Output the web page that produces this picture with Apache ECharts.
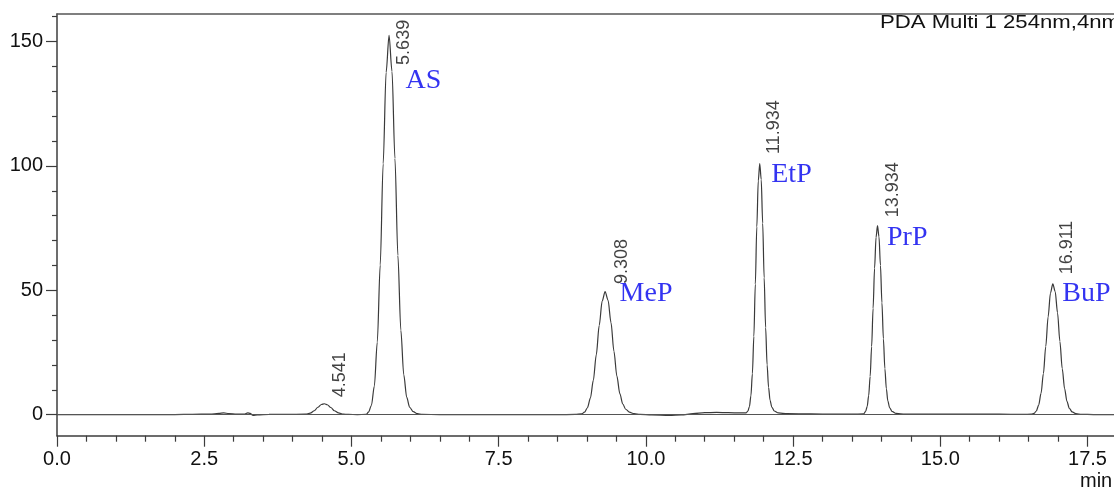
<!DOCTYPE html>
<html>
<head>
<meta charset="utf-8">
<script src="https://cdn.jsdelivr.net/npm/echarts@6/dist/echarts.min.js"></script>
<style>html,body{margin:0;padding:0;background:#fff}#c{width:1114px;height:490px}</style>
</head>
<body>
<div id="c"></div>
<script>
// ---------- DATA ----------
const timeMin = [
  0.0, 0.5, 1.0, 1.5, 2.0, 2.3, 2.6, 2.75, 2.83, 2.92, 3.05, 3.18, 3.24, 3.28, 3.33, 3.4, 3.6, 3.9, 4.22,
  4.30, 4.37, 4.43, 4.49, 4.541, 4.59, 4.65, 4.71, 4.78, 4.86, 4.95, 5.1, 5.25,
  5.289, 5.339, 5.389, 5.439, 5.489, 5.539, 5.589, 5.639, 5.689, 5.739, 5.789, 5.839, 5.889, 5.939, 5.989, 6.05, 6.12, 6.2,
  6.5, 7.0, 7.5, 8.0, 8.5, 8.8,
  8.908, 8.958, 9.008, 9.058, 9.108, 9.158, 9.208, 9.258, 9.308, 9.358, 9.408, 9.458, 9.508, 9.558, 9.608, 9.658, 9.72, 9.8, 9.9,
  10.1, 10.4, 10.6, 10.8, 11.0, 11.2, 11.4, 11.6, 11.70,
  11.734, 11.759, 11.784, 11.809, 11.834, 11.859, 11.884, 11.909, 11.934, 11.959, 11.984, 12.009, 12.034, 12.059, 12.084, 12.109, 12.14, 12.18, 12.25, 12.4,
  12.8, 13.2, 13.5, 13.70,
  13.734, 13.759, 13.784, 13.809, 13.834, 13.859, 13.884, 13.909, 13.934, 13.959, 13.984, 14.009, 14.034, 14.059, 14.084, 14.109, 14.14, 14.18, 14.25, 14.4,
  14.8, 15.5, 16.0, 16.4, 16.55,
  16.591, 16.631, 16.671, 16.711, 16.751, 16.791, 16.831, 16.871, 16.911, 16.951, 16.991, 17.031, 17.071, 17.111, 17.151, 17.191, 17.24, 17.3, 17.4, 17.6, 17.95
];
const signalMv = [
  0, 0, 0, 0, 0.05, 0.15, 0.25, 0.5, 0.75, 0.45, 0.2, 0.25, 0.75, 0.5, -0.3, -0.1, 0.1, 0.15, 0.2,
  0.6, 1.6, 3.0, 4.1, 4.4, 4.0, 2.9, 1.6, 0.7, 0.25, 0.1, 0.05, 0.1,
  1.0, 3.7, 11.5, 29.2, 60.2, 100.9, 137.6, 152.5, 138, 103, 64, 34, 16, 7, 3, 1.2, 0.4, 0.1,
  0.05, 0, 0, 0, 0, 0.1,
  0.3, 1.0, 2.8, 6.7, 13.8, 24.1, 35.9, 45.7, 49.5, 46, 37, 25.5, 15.5, 8.5, 4.3, 2.2, 1.0, 0.4, 0.1,
  -0.1, -0.3, -0.1, 0.4, 0.8, 0.9, 0.8, 0.7, 0.7,
  1.5, 3.3, 7.6, 16.5, 31.5, 52.5, 75.5, 94, 101, 94.5, 77, 55, 35, 20, 11, 5.8, 3.0, 1.5, 0.7, 0.4,
  0.3, 0.25, 0.2, 0.3,
  1.4, 3.4, 7.7, 15.4, 27.4, 42.8, 58.9, 71.3, 76, 71.5, 60, 45, 30.5, 18.5, 10.5, 5.6, 2.8, 1.3, 0.5, 0.25,
  0.2, 0.2, 0.2, 0.15, 0.2,
  0.5, 1.5, 3.9, 8.6, 16.5, 27.4, 39.3, 48.9, 52.6, 49.5, 41, 29.5, 18.5, 10.5, 5.4, 2.6, 1.1, 0.4, 0.15, 0.05, 0
];
const peakTimes   = [4.541, 5.639, 9.308, 11.934, 13.934, 16.911];
const peakHeights = [4.4, 152.5, 49.5, 101, 76, 52.6];
const peakNames   = ['', 'AS', 'MeP', 'EtP', 'PrP', 'BuP'];
const xTickLabels = [0, 2.5, 5, 7.5, 10, 12.5, 15, 17.5];
const xMinorTicks = [0.5,1,1.5,2,3,3.5,4,4.5,5.5,6,6.5,7,8,8.5,9,9.5,10.5,11,11.5,12,13,13.5,14,14.5,15.5,16,16.5,17];
const yTickLabels = [0, 50, 100, 150];
const yMinorTicks = [10,20,30,40,60,70,80,90,110,120,130,140,160];
const detectorText = 'PDA Multi 1 254nm,4nm';
const xUnit = 'min';

// ---------- STYLE / LAYOUT ----------
const X_MIN = 0, X_MAX = 17.95, Y_MIN = -8.44, Y_MAX = 161.1;
const rtOffsets   = [[16,-6],[15,30],[17,-7],[15,-9],[16,-8],[15,-9]];
const nameOffsets = [[0,0],[17,46],[15,3],[12,12],[10,12],[10,10]];
const SANS = '"Liberation Sans", Arial, sans-serif';
const SERIF = '"Liberation Serif", "Times New Roman", serif';
const AX = '#3c3c3c';

const curve = timeMin.map((t, i) => [t, signalMv[i]]);
const rtData = peakTimes.map((t, i) => ({
  value: [t, peakHeights[i]],
  label: { position: rtOffsets[i], formatter: t.toFixed(3) }
}));
const nameData = peakTimes.map((t, i) => ({
  value: [t, peakHeights[i]],
  label: { show: peakNames[i] !== '', position: nameOffsets[i], formatter: peakNames[i] }
}));

const chart = echarts.init(document.getElementById('c'), null, { renderer: 'canvas' });
chart.setOption({
  animation: false,
  backgroundColor: '#fff',
  grid: { left: 57, right: 0, top: 14, bottom: 54.3, containLabel: false },
  xAxis: [
    { type: 'value', min: X_MIN, max: X_MAX, position: 'bottom',
      axisLine: { show: true, onZero: false, lineStyle: { color: AX, width: 1.5 } },
      axisTick: { show: true, length: 11, customValues: xTickLabels, lineStyle: { color: AX, width: 1.2 } },
      axisLabel: { show: true, customValues: xTickLabels, margin: 14, color: '#111', fontSize: 20, fontFamily: SANS,
        formatter: v => v.toFixed(1) },
      splitLine: { show: false } },
    { type: 'value', min: X_MIN, max: X_MAX, position: 'bottom',
      axisLine: { show: false, onZero: false },
      axisTick: { show: true, length: 6, customValues: xMinorTicks, lineStyle: { color: AX, width: 1.2 } },
      axisLabel: { show: false }, splitLine: { show: false } },
    { type: 'value', min: X_MIN, max: X_MAX, position: 'top',
      axisLine: { show: true, onZero: false, lineStyle: { color: '#555', width: 1.5 } },
      axisTick: { show: false }, axisLabel: { show: false }, splitLine: { show: false } }
  ],
  yAxis: [
    { type: 'value', min: Y_MIN, max: Y_MAX, position: 'left',
      axisLine: { show: true, onZero: false, lineStyle: { color: AX, width: 1.5 } },
      axisTick: { show: true, length: 11, customValues: yTickLabels, lineStyle: { color: AX, width: 1.2 } },
      axisLabel: { show: true, customValues: yTickLabels, margin: 14, color: '#111', fontSize: 20, fontFamily: SANS },
      splitLine: { show: false } },
    { type: 'value', min: Y_MIN, max: Y_MAX, position: 'left',
      axisLine: { show: false, onZero: false },
      axisTick: { show: true, length: 5, customValues: yMinorTicks, lineStyle: { color: AX, width: 1.2 } },
      axisLabel: { show: false }, splitLine: { show: false } }
  ],
  graphic: [
    { type: 'text', x: 880, y: 23.5, scaleX: 1.23, silent: true,
      style: { text: detectorText, font: '18px ' + SANS, fill: '#111', align: 'left', verticalAlign: 'middle' } },
    { type: 'text', x: 1080, y: 481, silent: true,
      style: { text: xUnit, font: '20px ' + SANS, fill: '#111', align: 'left', verticalAlign: 'middle' } }
  ],
  series: [
    { type: 'line', name: 'signal', data: curve, xAxisIndex: 0, yAxisIndex: 0,
      showSymbol: false, symbol: 'none', smooth: 0.3, smoothMonotone: 'x',
      lineStyle: { color: '#3a3a3a', width: 1.2 },
      markLine: { silent: true, symbol: 'none', animation: false,
        label: { show: false }, lineStyle: { color: '#555', width: 1.2, type: 'solid' },
        data: [{ yAxis: 0 }] },
      z: 3 },
    { type: 'scatter', name: 'rt', data: rtData, xAxisIndex: 0, yAxisIndex: 0,
      symbolSize: 1, itemStyle: { color: 'rgba(0,0,0,0)' }, silent: true,
      label: { show: true, rotate: 90, align: 'left', verticalAlign: 'middle',
        color: '#111', fontSize: 18, fontFamily: SANS }, z: 4 },
    { type: 'scatter', name: 'names', data: nameData, xAxisIndex: 0, yAxisIndex: 0,
      symbolSize: 1, itemStyle: { color: 'rgba(0,0,0,0)' }, silent: true,
      label: { show: true, align: 'left', verticalAlign: 'middle',
        color: '#0000ee', fontSize: 28, fontFamily: SERIF }, z: 4 }
  ]
});
</script>
</body>
</html>
